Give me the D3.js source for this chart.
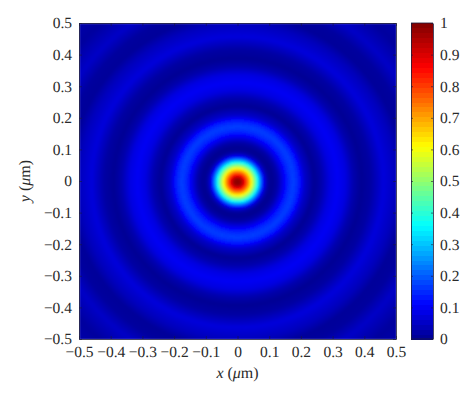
<!DOCTYPE html>
<html>
<head>
<meta charset="utf-8">
<script src="https://cdn.jsdelivr.net/npm/d3@7"></script>
<style>
  html, body { margin: 0; padding: 0; background: #fff; }
  text { font-family: "Liberation Serif", serif; fill: #2a2a2a; text-rendering: geometricPrecision; }
</style>
</head>
<body>
<div id="chart"></div>
<script>
// radial intensity profile
const radius = [0, 0.01, 0.02, 0.03, 0.04, 0.05, 0.06, 0.07, 0.08, 0.09, 0.10, 0.11, 0.125, 0.14, 0.16, 0.175, 0.19, 0.21, 0.24, 0.265, 0.29, 0.315, 0.34, 0.365, 0.39, 0.42, 0.46, 0.50, 0.53, 0.56, 0.60, 0.66, 0.72];
const intensity = [1, 0.97, 0.88, 0.76, 0.64, 0.52, 0.39, 0.25, 0.11, 0.035, 0.005, 0.003, 0.025, 0.08, 0.15, 0.17, 0.145, 0.06, 0.005, 0.03, 0.08, 0.1, 0.08, 0.03, 0.005, 0.02, 0.075, 0.045, 0.01, 0.015, 0.055, 0.015, 0.03];

const xTicks = [-0.5, -0.4, -0.3, -0.2, -0.1, 0, 0.1, 0.2, 0.3, 0.4, 0.5];
const yTicks = xTicks;
const barTicks = [0, 0.1, 0.2, 0.3, 0.4, 0.5, 0.6, 0.7, 0.8, 0.9, 1];
const jetStops = [0, 0.11, 0.36, 0.61, 0.86, 1];
const jetColors = ["#00008f", "#0000ff", "#00ffff", "#ffff00", "#ff0000", "#800000"];

const width = 474, height = 398;
const plot = { left: 79, right: 396, top: 23, bottom: 339 };
const bar = { left: 411, right: 433 };
const gridSize = 158;

const svg = d3.select("#chart").append("svg")
  .attr("width", width)
  .attr("height", height)
  .style("display", "block");

const x = d3.scaleLinear().domain([-0.5, 0.5]).range([plot.left, plot.right]);
const y = d3.scaleLinear().domain([-0.5, 0.5]).range([plot.bottom, plot.top]);
const barY = d3.scaleLinear().domain([0, 1]).range([plot.bottom, plot.top]);

const profile = d3.scaleLinear().domain(radius).range(intensity);
const jet = d3.scaleLinear().domain(jetStops).range(jetColors).clamp(true);

const fmt = (d) => String(d).replace("-", "\u2212");

// soft edge on the raster, clipped back to the frame
const defs = svg.append("defs");
defs.append("filter").attr("id", "soften")
  .attr("x", "-2%").attr("y", "-2%").attr("width", "104%").attr("height", "104%")
  .append("feGaussianBlur").attr("stdDeviation", 0.8);
defs.append("clipPath").attr("id", "frame").append("rect")
  .attr("x", plot.left).attr("y", plot.top)
  .attr("width", plot.right - plot.left).attr("height", plot.bottom - plot.top);

// heat map
const cells = d3.range(gridSize).map((d) => (d + 0.5) / gridSize - 0.5);
const cellW = (plot.right - plot.left) / gridSize;
const cellH = (plot.bottom - plot.top) / gridSize;
const grid = cells.flatMap((cy) => cells.map((cx) => ({ cx, cy })));

svg.append("g").attr("clip-path", "url(#frame)")
  .append("g")
  .attr("filter", "url(#soften)")
  .attr("shape-rendering", "crispEdges")
  .selectAll("rect")
  .data(grid)
  .join("rect")
  .attr("x", (d) => x(d.cx) - cellW / 2)
  .attr("y", (d) => y(d.cy) - cellH / 2)
  .attr("width", cellW + 0.5)
  .attr("height", cellH + 0.5)
  .attr("fill", (d) => jet(profile(Math.hypot(d.cx, d.cy))));

// colour bar
const levels = d3.range(64).map((d) => d / 64);
svg.append("g")
  .attr("shape-rendering", "crispEdges")
  .selectAll("rect")
  .data(levels)
  .join("rect")
  .attr("x", bar.left)
  .attr("width", bar.right - bar.left)
  .attr("y", (d) => barY(d + 1 / 64))
  .attr("height", (plot.bottom - plot.top) / 64 + 0.5)
  .attr("fill", (d) => jet(d + 1 / 128));

const styleAxis = (g) => {
  g.select(".domain").attr("stroke", "#1a1a3a").attr("stroke-width", 0.8);
  g.selectAll(".tick line").attr("stroke", "#1a1a3a").attr("stroke-width", 0.6);
  g.selectAll("text").attr("font-size", 15.5);
};

const axisOf = (axis, ticks, size, pad) => axis
  .tickValues(ticks)
  .tickFormat(fmt)
  .tickSizeInner(size)
  .tickSizeOuter(0)
  .tickPadding(pad);

svg.append("g").attr("transform", `translate(0,${plot.bottom})`)
  .call(axisOf(d3.axisBottom(x), xTicks, -3, 7)).call(styleAxis);
svg.append("g").attr("transform", `translate(${plot.left},0)`)
  .call(axisOf(d3.axisLeft(y), yTicks, -3, 7)).call(styleAxis);
svg.append("g").attr("transform", `translate(0,${plot.top})`)
  .call(axisOf(d3.axisTop(x), xTicks, -3, 0)).call(styleAxis)
  .selectAll("text").remove();
svg.append("g").attr("transform", `translate(${plot.right},0)`)
  .call(axisOf(d3.axisRight(y), yTicks, -3, 0)).call(styleAxis)
  .selectAll("text").remove();

// colour bar axes
svg.append("g").attr("transform", `translate(${bar.right},0)`)
  .call(axisOf(d3.axisRight(barY), barTicks, -2, 7)).call(styleAxis);
svg.append("g").attr("transform", `translate(${bar.left},0)`)
  .call(axisOf(d3.axisLeft(barY), barTicks, -2, 0)).call(styleAxis)
  .selectAll("text").remove();
svg.append("line").attr("x1", bar.left).attr("x2", bar.right)
  .attr("y1", plot.top).attr("y2", plot.top).attr("stroke", "#1a1a3a").attr("stroke-width", 0.8);
svg.append("line").attr("x1", bar.left).attr("x2", bar.right)
  .attr("y1", plot.bottom).attr("y2", plot.bottom).attr("stroke", "#1a1a3a").attr("stroke-width", 0.8);

// axis titles
const xLabel = svg.append("text")
  .attr("x", (plot.left + plot.right) / 2)
  .attr("y", 378)
  .attr("text-anchor", "middle")
  .attr("font-size", 16);
xLabel.append("tspan").attr("font-style", "italic").text("x");
xLabel.append("tspan").text(" (");
xLabel.append("tspan").attr("font-style", "italic").text("\u03bc");
xLabel.append("tspan").text("m)");

const yLabel = svg.append("text")
  .attr("transform", `translate(30,${(plot.top + plot.bottom) / 2}) rotate(-90)`)
  .attr("text-anchor", "middle")
  .attr("font-size", 16);
yLabel.append("tspan").attr("font-style", "italic").text("y");
yLabel.append("tspan").text(" (");
yLabel.append("tspan").attr("font-style", "italic").text("\u03bc");
yLabel.append("tspan").text("m)");
</script>
</body>
</html>
